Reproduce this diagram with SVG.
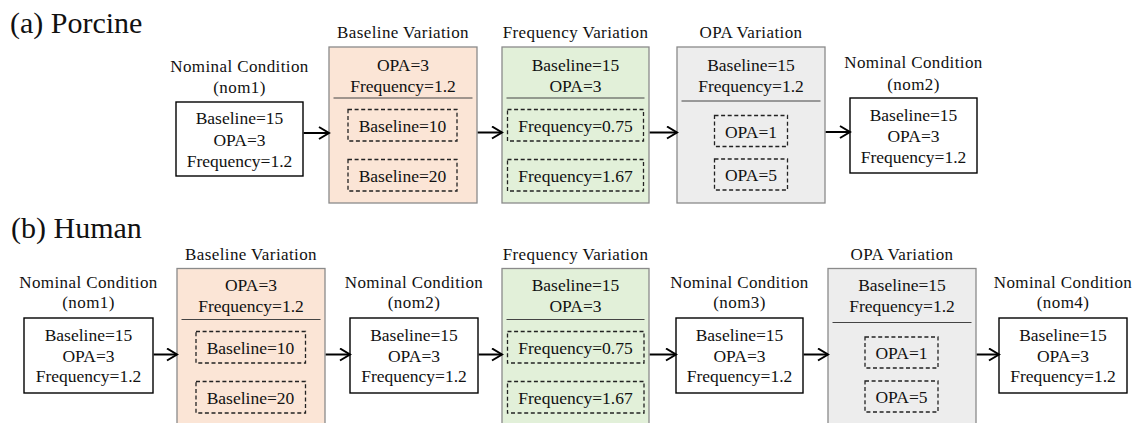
<svg xmlns="http://www.w3.org/2000/svg" width="1135" height="423" viewBox="0 0 1135 423" font-family="'Liberation Serif', Tinos, 'Times New Roman', Times, 'DejaVu Serif', serif">
  <defs>
    <style>
      text { font-family: 'Liberation Serif', Tinos, 'Times New Roman', Times, 'DejaVu Serif', serif; fill: #111; }
      .head { font-size: 30px; }
      .lbl { font-size: 17px; letter-spacing: 0.4px; text-anchor: middle; }
      .txt { font-size: 17.5px; text-anchor: middle; }
      .nom { fill: #fff; stroke: #000; stroke-width: 1.4; }
      .var { stroke: #8a8a8a; stroke-width: 1.3; }
      .bv { fill: #fbe5d6; }
      .fv { fill: #e2f0d9; }
      .ov { fill: #ededed; }
      .div { stroke: #444; stroke-width: 1; }
      .dash { fill: none; stroke: #222; stroke-width: 1.3; stroke-dasharray: 4 2.6; }
      .conn { fill: none; stroke: #000; stroke-width: 2; marker-end: url(#chev); }
    </style>
    <marker id="chev" markerUnits="userSpaceOnUse" markerWidth="14" markerHeight="14" viewBox="0 0 14 14" refX="12" refY="7" orient="auto">
      <path d="M2,1 L12,7 L2,13" fill="none" stroke="#000" stroke-width="2"/>
    </marker>
  </defs>

  <rect width="1135" height="423" fill="#fff"/>

  <!-- panel headings -->
  <text class="head" x="10" y="33">(a) Porcine</text>
  <text class="head" x="11" y="238">(b) Human</text>

  <!-- ===== (a) Porcine ===== -->
  <g id="a-nom1">
    <text class="lbl" x="239.5" y="72">Nominal Condition</text>
    <text class="lbl" x="239.5" y="93">(nom1)</text>
    <rect class="nom" x="176" y="102" width="127" height="74"/>
    <text class="txt" x="239.5" y="124">Baseline=15</text>
    <text class="txt" x="239.5" y="145.5">OPA=3</text>
    <text class="txt" x="239.5" y="167">Frequency=1.2</text>
  </g>

  <g id="a-baseline">
    <text class="lbl" x="403" y="38">Baseline Variation</text>
    <rect class="var bv" x="329" y="47" width="148" height="156"/>
    <text class="txt" x="403" y="71">OPA=3</text>
    <text class="txt" x="403" y="91.5">Frequency=1.2</text>
    <line class="div" x1="333.5" y1="98" x2="472.5" y2="98"/>
    <rect class="dash" x="348" y="109.5" width="109" height="31.5"/>
    <text class="txt" x="402.5" y="131.5">Baseline=10</text>
    <rect class="dash" x="348" y="159.5" width="109" height="31.5"/>
    <text class="txt" x="402.5" y="181.5">Baseline=20</text>
  </g>

  <g id="a-frequency">
    <text class="lbl" x="575.5" y="38">Frequency Variation</text>
    <rect class="var fv" x="502" y="47" width="147" height="156"/>
    <text class="txt" x="575.5" y="71">Baseline=15</text>
    <text class="txt" x="575.5" y="91.5">OPA=3</text>
    <line class="div" x1="506.5" y1="98" x2="644.5" y2="98"/>
    <rect class="dash" x="507.5" y="109.5" width="136" height="31.5"/>
    <text class="txt" x="575.5" y="131.5">Frequency=0.75</text>
    <rect class="dash" x="507.5" y="159.5" width="136" height="31.5"/>
    <text class="txt" x="575.5" y="181.5">Frequency=1.67</text>
  </g>

  <g id="a-opa">
    <text class="lbl" x="751" y="38">OPA Variation</text>
    <rect class="var ov" x="677" y="47" width="148" height="156"/>
    <text class="txt" x="751" y="71">Baseline=15</text>
    <text class="txt" x="751" y="91.5">Frequency=1.2</text>
    <line class="div" x1="681.5" y1="101" x2="820.5" y2="101"/>
    <rect class="dash" x="714.5" y="115.5" width="73" height="31"/>
    <text class="txt" x="751" y="137.5">OPA=1</text>
    <rect class="dash" x="714.5" y="159" width="73" height="31"/>
    <text class="txt" x="751" y="181">OPA=5</text>
  </g>

  <g id="a-nom2">
    <text class="lbl" x="913.5" y="68">Nominal Condition</text>
    <text class="lbl" x="913.5" y="90">(nom2)</text>
    <rect class="nom" x="850" y="98" width="127" height="75"/>
    <text class="txt" x="913.5" y="120.5">Baseline=15</text>
    <text class="txt" x="913.5" y="141.5">OPA=3</text>
    <text class="txt" x="913.5" y="162.5">Frequency=1.2</text>
  </g>

  <!-- ===== (b) Human ===== -->
  <g id="b-nom1">
    <text class="lbl" x="88.5" y="288">Nominal Condition</text>
    <text class="lbl" x="88.5" y="308">(nom1)</text>
    <rect class="nom" x="24" y="318" width="129" height="75"/>
    <text class="txt" x="88.5" y="340.5">Baseline=15</text>
    <text class="txt" x="88.5" y="361.5">OPA=3</text>
    <text class="txt" x="88.5" y="382">Frequency=1.2</text>
  </g>

  <g id="b-baseline">
    <text class="lbl" x="251" y="259.5">Baseline Variation</text>
    <rect class="var bv" x="177" y="268.5" width="148" height="156"/>
    <text class="txt" x="251" y="291">OPA=3</text>
    <text class="txt" x="251" y="311.5">Frequency=1.2</text>
    <line class="div" x1="181.5" y1="319.5" x2="320.5" y2="319.5"/>
    <rect class="dash" x="196" y="331.5" width="109.5" height="31.5"/>
    <text class="txt" x="250.5" y="353.5">Baseline=10</text>
    <rect class="dash" x="196" y="381.5" width="109.5" height="31.5"/>
    <text class="txt" x="250.5" y="403.5">Baseline=20</text>
  </g>

  <g id="b-nom2">
    <text class="lbl" x="414" y="288">Nominal Condition</text>
    <text class="lbl" x="414" y="308">(nom2)</text>
    <rect class="nom" x="350" y="318" width="128" height="75"/>
    <text class="txt" x="414" y="340.5">Baseline=15</text>
    <text class="txt" x="414" y="361.5">OPA=3</text>
    <text class="txt" x="414" y="382">Frequency=1.2</text>
  </g>

  <g id="b-frequency">
    <text class="lbl" x="575.5" y="259.5">Frequency Variation</text>
    <rect class="var fv" x="502" y="268.5" width="147" height="156"/>
    <text class="txt" x="575.5" y="291">Baseline=15</text>
    <text class="txt" x="575.5" y="311.5">OPA=3</text>
    <line class="div" x1="506.5" y1="319.5" x2="644.5" y2="319.5"/>
    <rect class="dash" x="507.5" y="331.5" width="136.5" height="31.5"/>
    <text class="txt" x="575.5" y="353.5">Frequency=0.75</text>
    <rect class="dash" x="507.5" y="381.5" width="136.5" height="31.5"/>
    <text class="txt" x="575.5" y="403.5">Frequency=1.67</text>
  </g>

  <g id="b-nom3">
    <text class="lbl" x="739.5" y="288">Nominal Condition</text>
    <text class="lbl" x="739.5" y="308">(nom3)</text>
    <rect class="nom" x="676" y="318" width="127" height="75"/>
    <text class="txt" x="739.5" y="340.5">Baseline=15</text>
    <text class="txt" x="739.5" y="361.5">OPA=3</text>
    <text class="txt" x="739.5" y="382">Frequency=1.2</text>
  </g>

  <g id="b-opa">
    <text class="lbl" x="902" y="259.5">OPA Variation</text>
    <rect class="var ov" x="828" y="268.5" width="148" height="156"/>
    <text class="txt" x="902" y="291">Baseline=15</text>
    <text class="txt" x="902" y="311.5">Frequency=1.2</text>
    <line class="div" x1="832.5" y1="322.5" x2="971.5" y2="322.5"/>
    <rect class="dash" x="865" y="337" width="73" height="31"/>
    <text class="txt" x="901.5" y="359">OPA=1</text>
    <rect class="dash" x="865" y="381" width="73" height="31"/>
    <text class="txt" x="901.5" y="402.5">OPA=5</text>
  </g>

  <g id="b-nom4">
    <text class="lbl" x="1063" y="288">Nominal Condition</text>
    <text class="lbl" x="1063" y="308">(nom4)</text>
    <rect class="nom" x="999" y="318" width="128" height="75"/>
    <text class="txt" x="1063" y="340.5">Baseline=15</text>
    <text class="txt" x="1063" y="361.5">OPA=3</text>
    <text class="txt" x="1063" y="382">Frequency=1.2</text>
  </g>

  <!-- connectors -->
  <g id="connectors">
    <path class="conn" d="M303.7,133 H329"/>
    <path class="conn" d="M477.7,132.5 H502"/>
    <path class="conn" d="M649.7,132.5 H677"/>
    <path class="conn" d="M825.7,132 H850"/>
    <path class="conn" d="M153.7,354.5 H177"/>
    <path class="conn" d="M325.7,354.5 H350"/>
    <path class="conn" d="M478.7,354.5 H502"/>
    <path class="conn" d="M649.7,354.5 H676"/>
    <path class="conn" d="M803.7,354.5 H828"/>
    <path class="conn" d="M976.7,354.5 H999"/>
  </g>
</svg>
